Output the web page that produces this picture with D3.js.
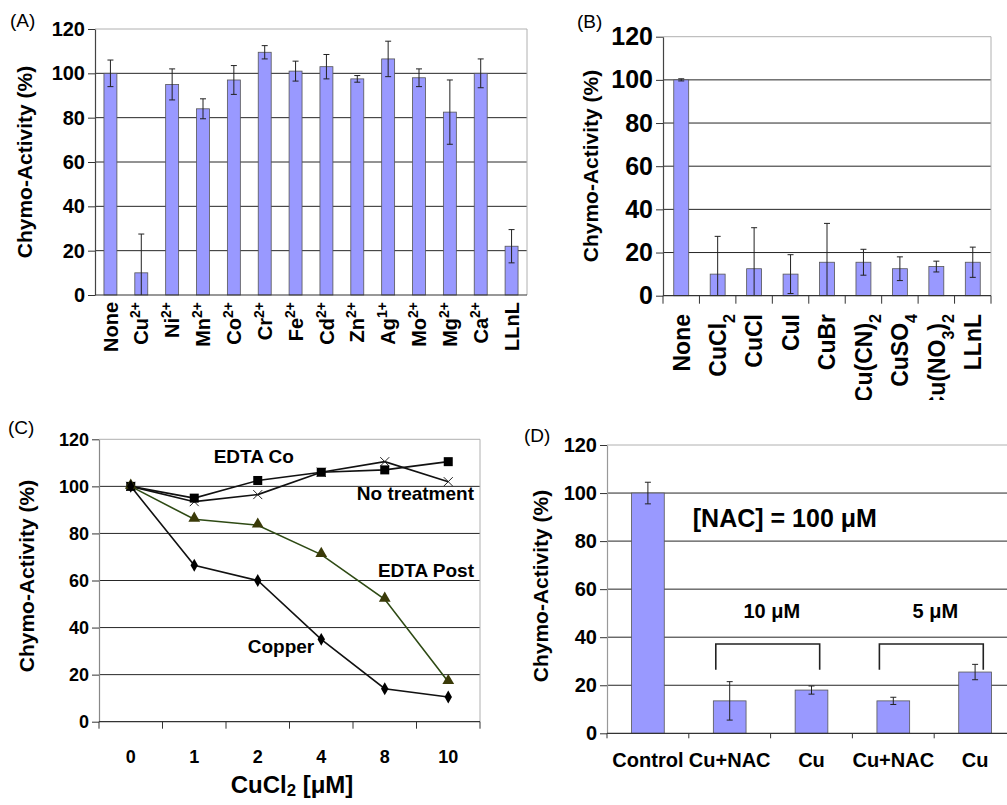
<!DOCTYPE html>
<html>
<head>
<meta charset="utf-8">
<script src="https://cdn.jsdelivr.net/npm/d3@7"></script>
<style>
  body { margin: 0; background: #fff; }
  svg { font-family: "Liberation Sans", Arial, Helvetica, sans-serif; }
</style>
</head>
<body>
<svg id="fig" width="1007" height="805"></svg>
<script>
// (A) metal ions. "^" = superscript, "_" = subscript
var metalLabels = ["None", "Cu^2+", "Ni^2+", "Mn^2+", "Co^2+", "Cr^2+", "Fe^2+", "Cd^2+", "Zn^2+", "Ag^1+", "Mo^2+", "Mg^2+", "Ca^2+", "LLnL"];
var metalActivity = [100, 10, 95, 84, 97, 109.5, 101, 103, 97.5, 106.5, 98, 82.5, 100, 22];
var metalError = [6, 17.5, 7, 4.5, 6.5, 3, 4.5, 5.5, 1.5, 8, 4, 14.5, 6.5, 7.5];

// (B) copper salts
var saltLabels = ["None", "CuCl_2", "CuCl", "CuI", "CuBr", "Cu(CN)_2", "CuSO_4", "Cu(NO_3)_2", "LLnL"];
var saltActivity = [100, 10, 12.5, 10, 15.5, 15.5, 12.5, 13.5, 15.5];
var saltError = [0.5, 17.5, 19, 9, 18, 6, 5.5, 2.5, 7];

// (C) CuCl2 dose response
var doses = ["0", "1", "2", "4", "8", "10"];
var edtaCo = [100, 95, 102.5, 106, 107, 110.5];
var noTreatment = [100, 93.5, 96.5, 106, 110.5, 102];
var edtaPost = [100, 86, 83.5, 71, 52, 17];
var copper = [100, 66.5, 60, 35, 14, 10.5];

// (D) NAC
var nacLabels = ["Control", "Cu+NAC", "Cu", "Cu+NAC", "Cu"];
var nacActivity = [100, 13.5, 18, 13.5, 25.5];
var nacError = [4.5, 8, 1.7, 1.5, 3.2];
var nacGroups = [{ text: "10 \u03bcM", from: 1, to: 2 }, { text: "5 \u03bcM", from: 3, to: 4 }];

var yTicks = [0, 20, 40, 60, 80, 100, 120];
var yTitle = "Chymo-Activity (%)";
var barFill = "#9999ff";

var svg = d3.select("#fig");

function richText(text, str) {
  str.split(/(_.|\^.+$)/).forEach(function(p) {
    if (!p) return;
    if (p[0] === "_") {
      text.append("tspan").attr("baseline-shift", "sub").attr("font-size", "70%").text(p.slice(1));
    } else if (p[0] === "^") {
      text.append("tspan").attr("baseline-shift", "super").attr("font-size", "70%").text(p.slice(1));
    } else {
      text.append("tspan").text(p);
    }
  });
}

// grid, borders and y axis shared by all panels
function frame(g, x0, x1, y, o) {
  g.append("g").selectAll("line").data(yTicks.slice(1)).join("line")
    .attr("x1", x0).attr("x2", x1)
    .attr("y1", function(d) { return y(d); }).attr("y2", function(d) { return y(d); })
    .attr("stroke", function(d) { return d === 120 ? "#b0b0b0" : "#262626"; })
    .attr("stroke-width", 1);
  g.append("line").attr("x1", x1).attr("x2", x1).attr("y1", y(0)).attr("y2", y(120))
    .attr("stroke", "#b0b0b0");
  var ax = g.append("g").attr("transform", "translate(" + x0 + ",0)")
    .call(d3.axisLeft(y).tickValues(yTicks).tickSize(7).tickSizeOuter(0).tickPadding(3));
  ax.select(".domain").attr("stroke", o.axisColor || "#555").attr("stroke-width", 1.2);
  ax.selectAll(".tick line").attr("stroke", "#333");
  ax.selectAll("text").attr("font-size", o.tickSize).attr("font-weight", "bold")
    .attr("fill", "#000").attr("font-family", null);
  g.append("text")
    .attr("transform", "translate(" + o.titleX + "," + o.titleY + ") rotate(-90)")
    .attr("text-anchor", "middle").attr("font-size", 21).attr("font-weight", "bold")
    .text(yTitle);
  g.append("text").attr("x", o.tagX).attr("y", o.tagY).attr("font-size", 19)
    .text(o.tag);
}

function bars(g, x, y, values, errors, frac) {
  var bw = x.bandwidth() * frac;
  g.append("g").selectAll("rect").data(values).join("rect")
    .attr("x", function(d, i) { return x(i) + (x.bandwidth() - bw) / 2; })
    .attr("y", function(d) { return y(d); })
    .attr("width", bw)
    .attr("height", function(d) { return y(0) - y(d); })
    .attr("fill", barFill).attr("stroke", "#555").attr("stroke-width", 0.8);
  var eg = g.append("g").attr("stroke", "#222").attr("stroke-width", 1);
  values.forEach(function(v, i) {
    var cx = x(i) + x.bandwidth() / 2;
    var lo = Math.max(0, v - errors[i]), hi = v + errors[i];
    eg.append("line").attr("x1", cx).attr("x2", cx).attr("y1", y(lo)).attr("y2", y(hi));
    eg.append("line").attr("x1", cx - 3).attr("x2", cx + 3).attr("y1", y(hi)).attr("y2", y(hi));
    if (lo > 0) eg.append("line").attr("x1", cx - 3).attr("x2", cx + 3).attr("y1", y(lo)).attr("y2", y(lo));
  });
}

function rotatedLabels(g, x, labels, top, size) {
  labels.forEach(function(l, i) {
    var t = g.append("text")
      .attr("transform", "translate(" + (x(i) + x.bandwidth() / 2) + "," + top + ") rotate(-90)")
      .attr("text-anchor", "end").attr("dy", "0.36em")
      .attr("font-size", size).attr("font-weight", "bold");
    richText(t, l);
  });
}

function boundaryTicks(g, x, y0, n, len) {
  g.append("g").selectAll("line").data(d3.range(n + 1)).join("line")
    .attr("x1", function(i) { return i < n ? x(i) : x(n - 1) + x.bandwidth(); })
    .attr("x2", function(i) { return i < n ? x(i) : x(n - 1) + x.bandwidth(); })
    .attr("y1", y0).attr("y2", y0 + len)
    .attr("stroke", "#333");
}

// ---------- (A)
(function() {
  var g = svg.append("g");
  var x = d3.scaleBand().domain(d3.range(metalLabels.length)).range([95, 527]);
  var y = d3.scaleLinear().domain([0, 120]).range([295, 29]);
  frame(g, 95, 527, y, { tickSize: 20, titleX: 32, titleY: 162, tag: "(A)", tagX: 10, tagY: 27, axisColor: "#444" });
  bars(g, x, y, metalActivity, metalError, 0.42);
  g.append("line").attr("x1", 95).attr("x2", 527).attr("y1", y(0)).attr("y2", y(0))
    .attr("stroke", "#333").attr("stroke-width", 1.2);
  rotatedLabels(g, x, metalLabels, 302, 20);
})();

// ---------- (B)
(function() {
  svg.append("clipPath").attr("id", "clipB").append("rect")
    .attr("x", 500).attr("y", 0).attr("width", 507).attr("height", 400);
  var g = svg.append("g").attr("clip-path", "url(#clipB)");
  var x = d3.scaleBand().domain(d3.range(saltLabels.length)).range([663, 991]);
  var y = d3.scaleLinear().domain([0, 120]).range([295.7, 36.7]);
  frame(g, 663, 991, y, { tickSize: 25, titleX: 598, titleY: 166, tag: "(B)", tagX: 577, tagY: 28, axisColor: "#444" });
  bars(g, x, y, saltActivity, saltError, 0.41);
  g.append("line").attr("x1", 663).attr("x2", 991).attr("y1", y(0)).attr("y2", y(0))
    .attr("stroke", "#333").attr("stroke-width", 1.2);
  boundaryTicks(g, x, y(0), saltLabels.length, 8);
  rotatedLabels(g, x, saltLabels, 314, 23);
})();

// ---------- (C)
(function() {
  var g = svg.append("g");
  var x = d3.scaleBand().domain(doses).range([99, 480]);
  var y = d3.scaleLinear().domain([0, 120]).range([721.7, 439.3]);
  var cx = function(d, i) { return x(doses[i]) + x.bandwidth() / 2; };
  frame(g, 99, 480, y, { tickSize: 18, titleX: 34, titleY: 576, tag: "(C)", tagX: 8, tagY: 434, axisColor: "#888" });
  g.append("line").attr("x1", 99).attr("x2", 480).attr("y1", y(0)).attr("y2", y(0))
    .attr("stroke", "#333").attr("stroke-width", 1.2);
  g.append("g").selectAll("line").data(d3.range(doses.length + 1)).join("line")
    .attr("x1", function(i) { return 99 + i * x.step(); })
    .attr("x2", function(i) { return 99 + i * x.step(); })
    .attr("y1", y(0)).attr("y2", y(0) + 7).attr("stroke", "#333");
  g.append("g").selectAll("text").data(doses).join("text")
    .attr("x", function(d) { return x(d) + x.bandwidth() / 2; })
    .attr("y", 763).attr("text-anchor", "middle")
    .attr("font-size", 18).attr("font-weight", "bold").text(function(d) { return d; });
  var xt = g.append("text").attr("x", 292).attr("y", 793).attr("text-anchor", "middle")
    .attr("font-size", 24).attr("font-weight", "bold");
  xt.append("tspan").text("CuCl");
  xt.append("tspan").attr("baseline-shift", "-18%").attr("font-size", "70%").text("2");
  xt.append("tspan").text(" [\u03bcM]");

  var line = d3.line().x(cx).y(function(d) { return y(d); });
  var series = [
    { data: noTreatment, color: "#111", marker: "x" },
    { data: edtaCo, color: "#111", marker: "square" },
    { data: edtaPost, color: "#2e4a14", marker: "triangle" },
    { data: copper, color: "#111", marker: "diamond" }
  ];
  series.forEach(function(s) {
    g.append("path").datum(s.data).attr("d", line)
      .attr("fill", "none").attr("stroke", s.color).attr("stroke-width", 1.6);
  });
  series.forEach(function(s) {
    var mg = g.append("g");
    s.data.forEach(function(v, i) {
      var px = cx(v, i), py = y(v);
      if (s.marker === "square") {
        mg.append("rect").attr("x", px - 4.5).attr("y", py - 4.5).attr("width", 9).attr("height", 9)
          .attr("fill", "#000");
      } else if (s.marker === "x") {
        mg.append("path").attr("d", "M" + (px - 4.5) + "," + (py - 4.5) + "L" + (px + 4.5) + "," + (py + 4.5) +
          "M" + (px - 4.5) + "," + (py + 4.5) + "L" + (px + 4.5) + "," + (py - 4.5))
          .attr("stroke", "#222").attr("stroke-width", 1);
      } else if (s.marker === "triangle") {
        mg.append("path").attr("d", d3.symbol(d3.symbolTriangle, 60)())
          .attr("transform", "translate(" + px + "," + (py - 1) + ")").attr("fill", "#3a3a08");
      } else {
        mg.append("path").attr("d", d3.symbol(d3.symbolDiamond, 48)())
          .attr("transform", "translate(" + px + "," + py + ")").attr("fill", "#000");
      }
    });
  });
  var lab = function(txt, xx, v, anchor) {
    g.append("text").attr("x", xx).attr("y", y(v)).attr("text-anchor", anchor)
      .attr("font-size", 19).attr("font-weight", "bold").text(txt);
  };
  lab("EDTA Co", x("2") + x.bandwidth() / 2 - 4, 110, "middle");
  lab("No treatment", 474, 94, "end");
  lab("EDTA Post", 474, 61.5, "end");
  lab("Copper", x("4") + x.bandwidth() / 2 - 7, 29, "end");
})();

// ---------- (D)
(function() {
  var g = svg.append("g");
  var x = d3.scaleBand().domain(d3.range(nacLabels.length)).range([607, 1016]);
  var y = d3.scaleLinear().domain([0, 120]).range([733.3, 445]);
  frame(g, 607, 1016, y, { tickSize: 20, titleX: 548, titleY: 586, tag: "(D)", tagX: 524, tagY: 442, axisColor: "#999" });
  bars(g, x, y, nacActivity, nacError, 0.4);
  g.append("line").attr("x1", 607).attr("x2", 1016).attr("y1", y(0)).attr("y2", y(0))
    .attr("stroke", "#333").attr("stroke-width", 1.2);
  boundaryTicks(g, x, y(0), nacLabels.length, 5);
  g.append("g").selectAll("text").data(nacLabels).join("text")
    .attr("x", function(d, i) { return x(i) + x.bandwidth() / 2; })
    .attr("y", 767).attr("text-anchor", "middle")
    .attr("font-size", 20).attr("font-weight", "bold").text(function(d) { return d; });
  g.append("text").attr("x", x(1) + 4).attr("y", y(86)).attr("font-size", 25).attr("font-weight", "bold")
    .text("[NAC] = 100 \u03bcM");
  nacGroups.forEach(function(gr) {
    var xl = x(gr.from) + x.bandwidth() * 0.33, xr = x(gr.to) + x.bandwidth() * 0.6;
    g.append("path")
      .attr("d", "M" + xl + "," + y(26.4) + "V" + y(37.2) + "H" + xr + "V" + y(26.4))
      .attr("fill", "none").attr("stroke", "#222").attr("stroke-width", 1.6);
    g.append("text").attr("x", (xl + xr) / 2 + 4).attr("y", y(48)).attr("text-anchor", "middle")
      .attr("font-size", 20).attr("font-weight", "bold").text(gr.text);
  });
})();
</script>
</body>
</html>
